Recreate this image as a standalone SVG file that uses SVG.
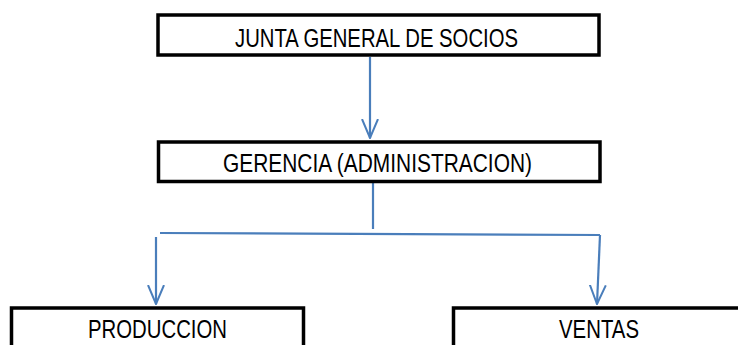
<svg xmlns="http://www.w3.org/2000/svg" width="738" height="345" viewBox="0 0 738 345">
<defs>
<style>
.box{fill:#fff;stroke:#000;stroke-width:3.5}
.lbl{font-family:"Liberation Sans",Arial,sans-serif;font-size:25px;fill:#000;text-anchor:middle}
.con{fill:none;stroke:#4a7ebb;stroke-width:2.2}
</style>
<marker id="ah" viewBox="0 0 20 20" refX="19" refY="10" markerWidth="20" markerHeight="20" markerUnits="userSpaceOnUse" orient="auto">
<path d="M0 2 L19 10 L0 18" fill="none" stroke="#4a7ebb" stroke-width="2"/>
</marker>
</defs>
<rect width="738" height="345" fill="#fff"/>
<g id="connectors">
<line class="con" x1="370" y1="57" x2="370" y2="138" marker-end="url(#ah)"/>
<line class="con" x1="373" y1="183" x2="373" y2="229"/>
<path class="con" d="M160 233 L600 235"/>
<line class="con" x1="156" y1="237" x2="156" y2="304" marker-end="url(#ah)"/>
<line class="con" x1="600" y1="235" x2="597" y2="304" marker-end="url(#ah)"/>
</g>
<g id="junta">
<rect class="box" x="158" y="15" width="441" height="40"/>
<text class="lbl" x="376.5" y="46.5" textLength="283" lengthAdjust="spacingAndGlyphs">JUNTA GENERAL DE SOCIOS</text>
</g>
<g id="gerencia">
<rect class="box" x="158.5" y="142" width="441.5" height="39.5"/>
<text class="lbl" x="377.5" y="172" textLength="309" lengthAdjust="spacingAndGlyphs">GERENCIA (ADMINISTRACION)</text>
</g>
<g id="produccion">
<rect class="box" x="11.5" y="308" width="292" height="60"/>
<text class="lbl" x="157.5" y="338" textLength="139" lengthAdjust="spacingAndGlyphs">PRODUCCION</text>
</g>
<g id="ventas">
<rect class="box" x="453.5" y="308" width="300" height="60"/>
<text class="lbl" x="599" y="338" textLength="80" lengthAdjust="spacingAndGlyphs">VENTAS</text>
</g>
</svg>
